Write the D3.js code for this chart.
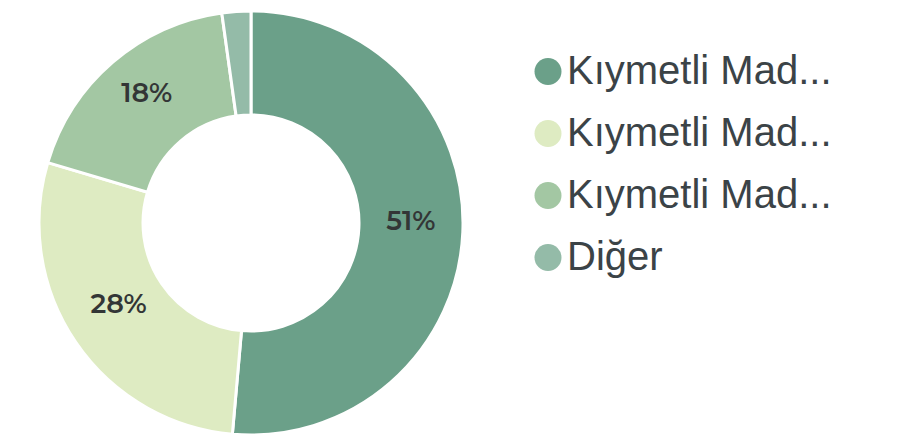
<!DOCTYPE html>
<html>
<head>
<meta charset="utf-8">
<script src="https://cdn.jsdelivr.net/npm/d3@7"></script>
<style>
  body { margin: 0; background: #fff; }
</style>
</head>
<body>
<div id="chart"></div>
<script>
const categories = ["Kıymetli Mad...", "Kıymetli Mad...", "Kıymetli Mad...", "Diğer"];
const shares = [51.4, 28.2, 18.2, 2.2];
const shareLabels = ["51%", "28%", "18%", ""];
const sliceColors = ["#6ba089", "#deebc2", "#a3c7a3", "#94bba8"];

const layout = {
    width: 901,
    height: 437,
    cx: 251,
    cy: 223,
    outer: 212,
    inner: 108,
    legendX: 548,
    legendY: 71.5,
    legendStep: 62
};

let svg = d3.select("#chart").append("svg")
    .attr("width", layout.width)
    .attr("height", layout.height);

let pie = d3.pie().sort(null).value(d => d);
let arc = d3.arc().innerRadius(layout.inner).outerRadius(layout.outer);
let slices = pie(shares);

let donut = svg.append("g")
    .attr("transform", `translate(${layout.cx},${layout.cy})`);

donut.selectAll("path")
    .data(slices)
    .join("path")
    .attr("d", arc)
    .attr("fill", (d, i) => sliceColors[i])
    .attr("stroke", "#fff")
    .attr("stroke-width", 3);

// percent labels, baseline sits on the arc centroid
donut.selectAll("text")
    .data(slices)
    .join("text")
    .attr("transform", d => `translate(${arc.centroid(d)})`)
    .attr("text-anchor", "middle")
    .attr("font-family", "Montserrat, 'Open Sans', sans-serif")
    .attr("font-weight", 600)
    .attr("font-size", 27)
    .attr("fill", "#333636")
    .text((d, i) => shareLabels[i]);

// legend
let legend = svg.append("g");
let rows = legend.selectAll("g")
    .data(categories)
    .join("g")
    .attr("transform", (d, i) => `translate(${layout.legendX},${layout.legendY + i * layout.legendStep})`);

rows.append("circle")
    .attr("r", 13.5)
    .attr("fill", (d, i) => sliceColors[i]);

rows.append("text")
    .attr("x", 19)
    .attr("y", 12)
    .attr("font-family", "'Liberation Sans', Arial, sans-serif")
    .attr("font-size", 40)
    .attr("fill", "#3b4347")
    .text(d => d);
</script>
</body>
</html>
